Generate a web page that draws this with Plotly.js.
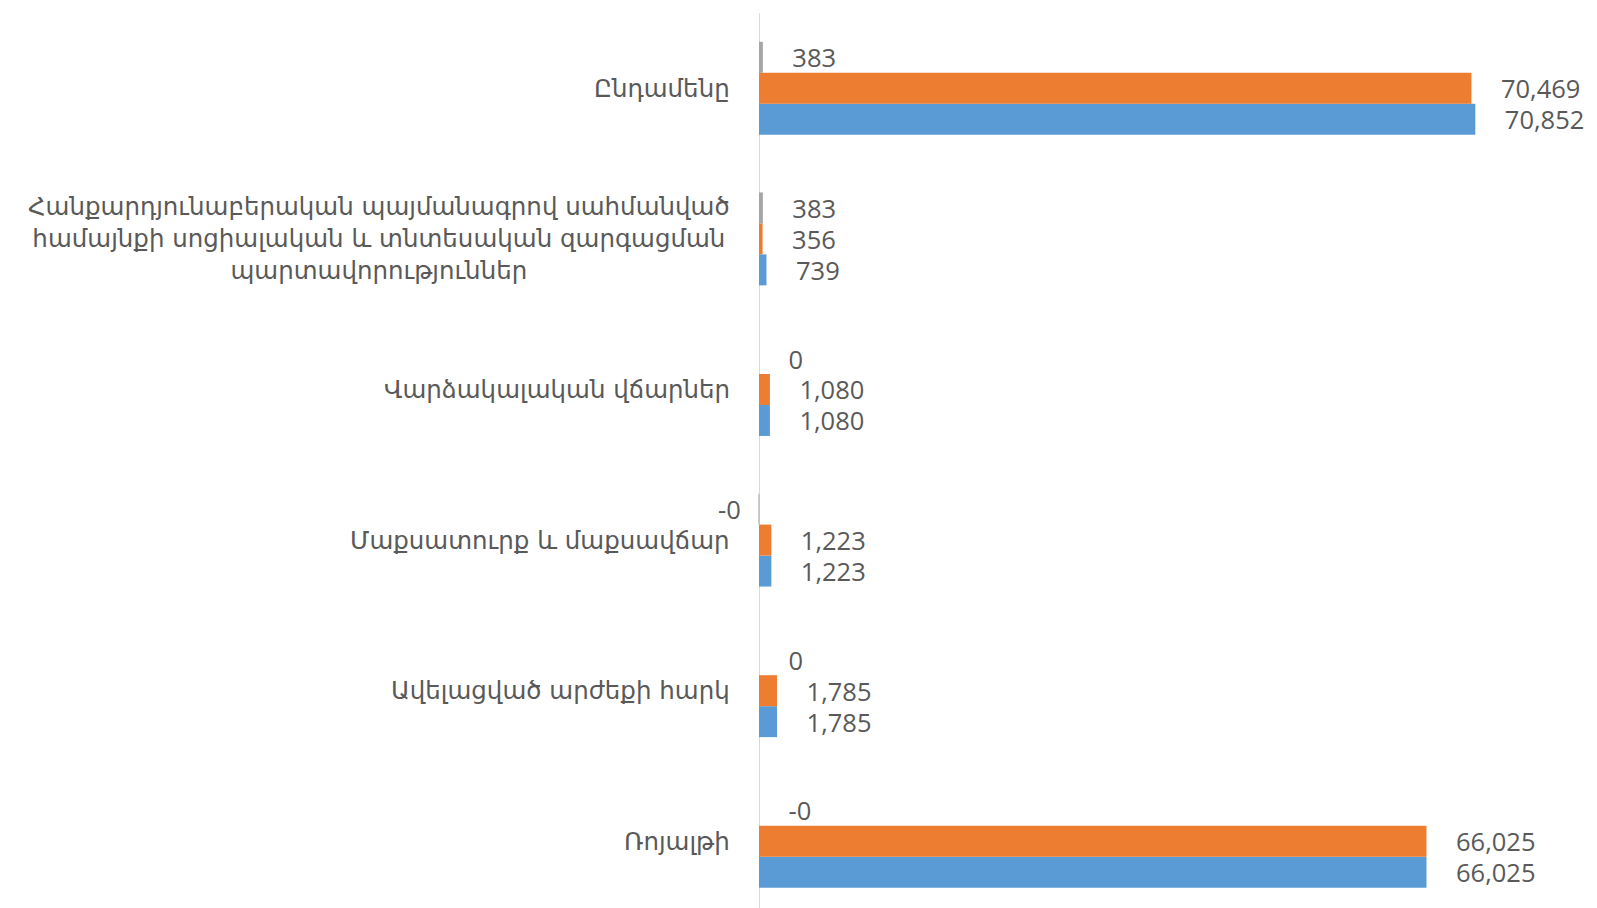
<!DOCTYPE html>
<html>
<head>
<meta charset="utf-8">
<script src="https://cdn.plot.ly/plotly-3.0.1.min.js"></script>
<style>html,body{margin:0;padding:0;background:#fff;}</style>
</head>
<body>
<div id="chart" style="width:1597px;height:908px;"></div>
<script>
// Categories (bottom to top)
const categories = [
  "Ռոյալթի",
  "Ավելացված արժեքի հարկ",
  "Մաքսատուրք և մաքսավճար",
  "Վարձակալական վճարներ",
  "Հանքարդյունաբերական պայմանագրով սահմանված<br>համայնքի սոցիալական և տնտեսական զարգացման<br>պարտավորություններ",
  "Ընդամենը"
];
// Series values (bottom-to-top category order)
const blueValues   = [66025, 1785, 1223, 1080, 739, 70852];
const orangeValues = [66025, 1785, 1223, 1080, 356, 70469];
const grayValues   = [-0, 0, -0.3, 0, 383, 383];

const fmt = new Intl.NumberFormat('en-US', {maximumFractionDigits: 0});
const pad = '\u00A0\u00A0\u00A0\u00A0';
function labels(vals) {
  // strictly negative values get their label on the left (drawn as annotations below)
  return vals.map(v => v < 0 ? '' : pad + fmt.format(v));
}

const textFont = {family: 'Open Sans, DejaVu Sans, sans-serif', size: 25.5, color: '#595959'};

function barTrace(vals, color, marker) {
  return {
    type: 'bar',
    orientation: 'h',
    y: categories,
    x: vals,
    text: labels(vals),
    textposition: 'outside',
    textfont: textFont,
    constraintext: 'none',
    cliponaxis: false,
    hoverinfo: 'none',
    marker: marker || {color: color}
  };
}

const data = [
  barTrace(blueValues, '#5B9BD5'),
  barTrace(orangeValues, '#ED7D31'),
  barTrace(grayValues, '#A5A5A5', {
    color: '#A5A5A5',
    line: {color: '#BFBFBF', width: grayValues.map(v => v < 0 ? 1.5 : 0)}
  })
];

const pxPerUnit = 0.01011;
const zeroPx = 759;
const leftMargin = 620;
const plotWidth = 1597 - leftMargin;
const xMin = -(zeroPx - leftMargin) / pxPerUnit;
const xMax = xMin + plotWidth / pxPerUnit;

const annotations = categories.map(c => ({
  xref: 'x', yref: 'y',
  x: 0, y: c,
  xanchor: 'right', yanchor: 'middle',
  xshift: -27,
  align: 'center',
  text: c,
  showarrow: false,
  font: {family: 'DejaVu Sans, Open Sans, sans-serif', size: 24.5, color: '#595959'}
}));

// labels for negative gray values, placed left of the bar (gray bar sits one bar-width above group centre)
grayValues.forEach((v, i) => {
  if (v < 0) {
    annotations.push({
      xref: 'x', yref: 'y',
      x: v, y: categories[i],
      xanchor: 'right', yanchor: 'middle',
      xshift: -16, yshift: 31,
      text: fmt.format(v),
      showarrow: false,
      font: textFont
    });
  }
});

const layout = {
  width: 1597, height: 908,
  margin: {l: leftMargin, r: 0, t: 13, b: 0, pad: 0},
  paper_bgcolor: '#ffffff', plot_bgcolor: '#ffffff',
  showlegend: false,
  barmode: 'group',
  bargap: 0.383,
  bargroupgap: 0,
  xaxis: {
    range: [xMin, xMax],
    showgrid: false, showticklabels: false, showline: false, ticks: '',
    zeroline: true, zerolinecolor: '#D9D9D9', zerolinewidth: 1
  },
  yaxis: {
    type: 'category',
    range: [-0.443, 5.5],
    showgrid: false, zeroline: false, showticklabels: false, ticks: '',
    showline: false
  },
  annotations: annotations
};

Plotly.newPlot('chart', data, layout, {staticPlot: true, displayModeBar: false});
</script>
</body>
</html>
